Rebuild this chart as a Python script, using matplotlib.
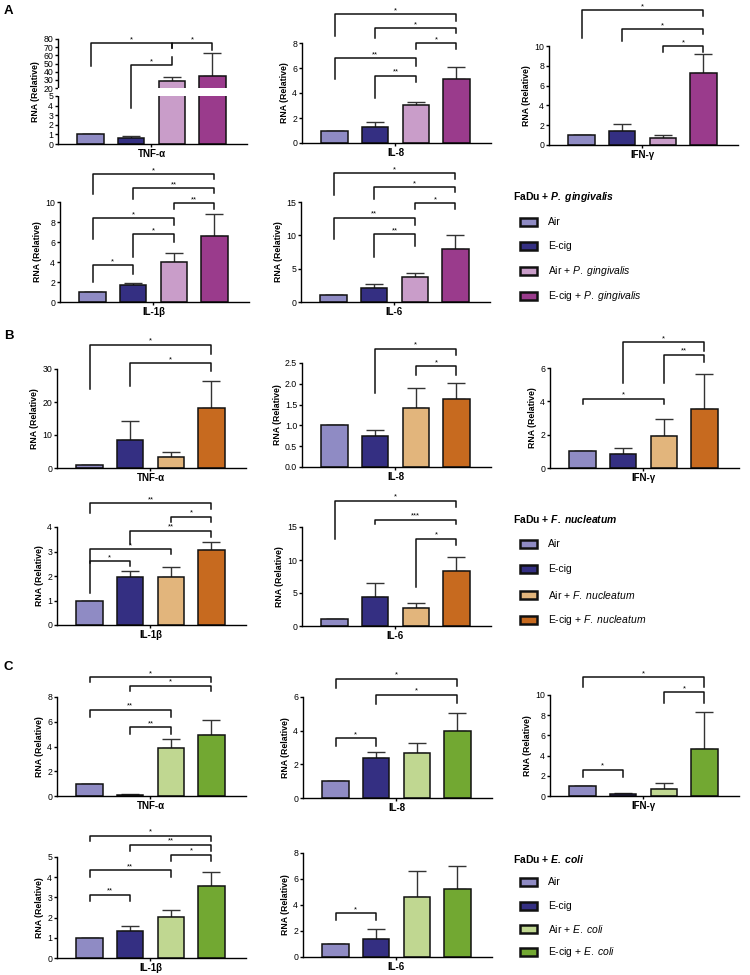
import numpy as np
import matplotlib
matplotlib.use("Agg")
import matplotlib.pyplot as plt
from matplotlib.patches import Rectangle
from matplotlib.ticker import FormatStrFormatter

plt.rcParams['font.family'] = ['Liberation Sans', 'DejaVu Sans']
plt.rcParams['mathtext.fontset'] = 'custom'
plt.rcParams['mathtext.rm'] = 'Liberation Sans'
plt.rcParams['mathtext.it'] = 'Liberation Sans:italic'
# bold-italic species name in the bold legend titles
plt.rcParams['mathtext.bf'] = 'Liberation Sans:italic:bold'

W, H = 750, 975

# ---- groups / colours ----
groups = ["Air", "E-cig", "Air + {}", "E-cig + {}"]
colors_pg = ["#8f8bc4", "#342f82", "#c99dc9", "#9a3b8c"]
colors_fn = ["#8f8bc4", "#342f82", "#e2b57c", "#c76a1f"]
colors_ec = ["#8f8bc4", "#342f82", "#c0d791", "#72a832"]

# ---- A: P. gingivalis ----
pg_tnf = [1.0, 0.63, 28.6, 34.7]
pg_tnf_err = [0, 0.23, 4.5, 27.7]
pg_tnf_sig = [(0, 2, 75, 47, 69, '*'), (2, 3, 75, 69, 66.5, '*'), (1, 2, 48, 3.7, 58, '*')]
pg_il8 = [1.0, 1.25, 3.04, 5.1]
pg_il8_err = [0, 0.4, 0.26, 1.0]
pg_il8_sig = [(0, 3, 10.3, 8.6, 9.8, '*'), (1, 3, 9.2, 8.4, 8.8, '*'), (2, 3, 8.0, 7.5, 7.5, '*'),
              (0, 2, 6.8, 5.1, 6.2, '**'), (1, 2, 5.4, 3.6, 4.9, '**')]
pg_ifn = [1.0, 1.4, 0.7, 7.3]
pg_ifn_err = [0, 0.7, 0.3, 1.9]
pg_ifn_sig = [(0, 3, 13.6, 10.8, 13.0, '*'), (1, 3, 11.7, 10.5, 11.2, '*'), (2, 3, 10.0, 9.4, 9.4, '*')]
pg_il1b = [1.0, 1.7, 4.0, 6.6]
pg_il1b_err = [0, 0.2, 0.9, 2.2]
pg_il1b_sig = [(0, 3, 12.8, 10.8, 12.3, '*'), (1, 3, 11.4, 10.3, 10.9, '**'), (2, 3, 9.9, 9.3, 9.3, '**'),
               (0, 2, 8.4, 6.3, 7.7, '*'), (1, 2, 6.8, 4.5, 6.0, '*'), (0, 1, 3.7, 2.0, 2.8, '*')]
pg_il6 = [1.0, 2.05, 3.75, 8.0]
pg_il6_err = [0, 0.6, 0.55, 2.0]
pg_il6_sig = [(0, 3, 19.3, 16.1, 18.5, '*'), (1, 3, 17.2, 15.5, 16.5, '*'), (2, 3, 14.8, 14.0, 14.0, '*'),
              (0, 2, 12.65, 9.4, 11.5, '**'), (1, 2, 10.15, 6.7, 8.35, '**')]

# ---- B: F. nucleatum ----
fn_tnf = [1.0, 8.6, 3.2, 18.2]
fn_tnf_err = [0, 5.5, 1.8, 8.3]
fn_tnf_sig = [(0, 3, 37.4, 23.9, 34.6, '*'), (1, 3, 31.8, 24.9, 29.3, '*')]
fn_il8 = [1.0, 0.74, 1.43, 1.64]
fn_il8_err = [0, 0.15, 0.48, 0.39]
fn_il8_sig = [(1, 3, 2.84, 1.79, 2.7, '*'), (2, 3, 2.42, 2.22, 2.22, '*')]
fn_ifn = [1.0, 0.87, 1.91, 3.52]
fn_ifn_err = [0, 0.33, 1.03, 2.12]
fn_ifn_sig = [(1, 3, 7.55, 5.09, 7.0, '*'), (2, 3, 6.8, 5.09, 6.34, '**'), (0, 2, 4.15, 3.85, 3.85, '*')]
fn_il1b = [1.0, 1.96, 1.95, 3.05]
fn_il1b_err = [0, 0.24, 0.4, 0.34]
fn_il1b_sig = [(0, 3, 4.98, 4.58, 4.72, '**'), (2, 3, 4.42, 4.22, 4.22, '*'), (1, 3, 3.85, 3.31, 3.58, '**'),
               (0, 2, 3.1, 2.53, 2.91, '*'), (0, 1, 2.6, 1.3, 2.4, '*')]
fn_il6 = [1.0, 4.43, 2.67, 8.35]
fn_il6_err = [0, 2.11, 0.85, 2.05]
fn_il6_sig = [(0, 3, 19.0, 13.2, 18.1, '*'), (1, 3, 16.1, 15.4, 15.4, '***'), (2, 3, 13.2, 5.9, 12.2, '*')]

# ---- C: E. coli ----
ec_tnf = [1.0, 0.11, 3.88, 4.96]
ec_tnf_err = [0, 0.03, 0.73, 1.22]
ec_tnf_sig = [(0, 3, 9.62, 9.21, 9.21, '*'), (1, 3, 8.92, 8.46, 8.46, '*'),
              (0, 2, 6.96, 6.37, 6.42, '**'), (1, 2, 5.56, 5.01, 5.01, '**')]
ec_il8 = [1.0, 2.35, 2.65, 3.98]
ec_il8_err = [0, 0.4, 0.64, 1.06]
ec_il8_sig = [(0, 3, 7.09, 6.53, 6.63, '*'), (1, 3, 6.14, 5.6, 5.64, '*'), (0, 1, 3.55, 3.09, 3.09, '*')]
ec_ifn = [1.0, 0.23, 0.73, 4.7]
ec_ifn_err = [0, 0.1, 0.56, 3.58]
ec_ifn_sig = [(0, 3, 11.75, 10.83, 10.83, '*'), (2, 3, 10.26, 9.24, 9.24, '*'), (0, 1, 2.62, 1.89, 1.89, '*')]
ec_il1b = [1.0, 1.32, 2.01, 3.55]
ec_il1b_err = [0, 0.25, 0.35, 0.71]
ec_il1b_sig = [(0, 3, 6.06, 5.78, 5.78, '*'), (1, 3, 5.61, 5.28, 5.28, '**'), (2, 3, 5.12, 4.79, 4.79, '*'),
               (0, 2, 4.34, 4.01, 4.01, '**'), (0, 1, 3.14, 2.81, 2.81, '**')]
ec_il6 = [1.0, 1.41, 4.62, 5.21]
ec_il6_err = [0, 0.77, 2.0, 1.76]
ec_il6_sig = [(0, 1, 3.38, 2.82, 2.82, '*')]

fig = plt.figure(figsize=(W / 100, H / 100), dpi=100)


def add_box(left, bottom, top, width=189):
    # axes placed by pixel edges of the reference
    return fig.add_axes([left / W, 1 - bottom / H, width / W, (bottom - top) / H])


def bar_panel(ax, vals, errs, sigs, colors, name, yticks, fmt=None):
    x = np.arange(len(vals))
    ax.errorbar(x, vals, yerr=[np.zeros(len(errs)), errs], fmt='none', ecolor='#333333',
                elinewidth=1.0, capsize=6.5, capthick=1.0, zorder=1)
    ax.bar(x, vals, width=0.65, color=colors, edgecolor='#111111', linewidth=1.1, zorder=2)
    for i, j, top, left_end, right_end, stars in sigs:
        ax.plot([i, i, j, j], [left_end, top, top, right_end], color='#111111', lw=1.1,
                clip_on=False, zorder=4)
        ax.text((i + j) / 2, top, stars, ha='center', va='bottom', fontsize=5.5,
                clip_on=False, zorder=4)
    ax.set_xlim(-0.8, 3.85)
    ax.set_ylim(yticks[0], yticks[-1])
    ax.set_yticks(yticks)
    if fmt:
        ax.yaxis.set_major_formatter(FormatStrFormatter(fmt))
    ax.set_xticks([1.5])
    ax.set_xticklabels([name], fontweight='bold', fontsize=7)
    ax.set_ylabel('RNA (Relative)', fontweight='bold', fontsize=6.3, labelpad=2)
    for s in ['top', 'right']:
        ax.spines[s].set_visible(False)
    for s in ['left', 'bottom']:
        ax.spines[s].set_linewidth(1.0)
    ax.tick_params(axis='y', labelsize=6.3, length=2.5, width=1, pad=1)
    ax.tick_params(axis='x', length=2.5, width=1, pad=1)


def legend_block(title_y, step, bug, colors):
    name = bug.replace(' ', r'\;')
    fig.text(513 / W, 1 - title_y / H, 'FaDu + $\\mathbf{' + name + '}$', fontweight='bold',
             fontsize=7.5, va='center')
    for k, (g, c) in enumerate(zip(groups, colors)):
        y = title_y + step * (k + 1)
        fig.add_artist(Rectangle((520 / W, 1 - (y + 4) / H), 17 / W, 8 / H, transform=fig.transFigure,
                                 facecolor=c, edgecolor='#111111', lw=1.8))
        label = g.format('$\\mathit{' + name + '}$')
        fig.text(548 / W, 1 - y / H, label, fontsize=7.5, va='center')


# broken axis used for TNF-a in panel A
LO, HI, GAP, K = 5.0, 20.0, 0.83, 0.0851


def brk_fwd(y):
    y = np.asarray(y, dtype=float)
    return np.where(y <= LO, y, np.where(y >= HI, LO + GAP + (y - HI) * K, LO + (y - LO) * GAP / (HI - LO)))


def brk_inv(s):
    s = np.asarray(s, dtype=float)
    return np.where(s <= LO, s, np.where(s >= LO + GAP, HI + (s - LO - GAP) / K, LO + (s - LO) * (HI - LO) / GAP))


# ---------- panel A ----------
ax = add_box(58, 144, 39)
ax.set_yscale('function', functions=(brk_fwd, brk_inv))
bar_panel(ax, pg_tnf, pg_tnf_err, pg_tnf_sig, colors_pg, "TNF-α",
          [0, 1, 2, 3, 4, 5, 20, 30, 40, 50, 60, 70, 80])
ax.spines['left'].set_visible(False)
ax.plot([0, 0], [0, LO], transform=ax.get_yaxis_transform(), color='black', lw=1.0, clip_on=False)
ax.plot([0, 0], [HI, 80], transform=ax.get_yaxis_transform(), color='black', lw=1.0, clip_on=False)
ax.axhspan(LO, HI, xmin=0.0, xmax=1.0, color='white', lw=0, zorder=3)

bar_panel(add_box(302, 143, 43), pg_il8, pg_il8_err, pg_il8_sig, colors_pg, "IL-8", [0, 2, 4, 6, 8])
bar_panel(add_box(549, 145, 46), pg_ifn, pg_ifn_err, pg_ifn_sig, colors_pg, "IFN-γ", [0, 2, 4, 6, 8, 10])
bar_panel(add_box(60, 302, 202), pg_il1b, pg_il1b_err, pg_il1b_sig, colors_pg, "IL-1β", [0, 2, 4, 6, 8, 10])
bar_panel(add_box(301, 302, 202), pg_il6, pg_il6_err, pg_il6_sig, colors_pg, "IL-6", [0, 5, 10, 15])
legend_block(197, 24.7, "P. gingivalis", colors_pg)

# ---------- panel B ----------
bar_panel(add_box(57, 468, 369), fn_tnf, fn_tnf_err, fn_tnf_sig, colors_fn, "TNF-α", [0, 10, 20, 30])
bar_panel(add_box(302, 467, 363), fn_il8, fn_il8_err, fn_il8_sig, colors_fn, "IL-8",
          [0, 0.5, 1.0, 1.5, 2.0, 2.5], fmt='%.1f')
bar_panel(add_box(550, 468, 368), fn_ifn, fn_ifn_err, fn_ifn_sig, colors_fn, "IFN-γ", [0, 2, 4, 6])
bar_panel(add_box(57, 625, 527), fn_il1b, fn_il1b_err, fn_il1b_sig, colors_fn, "IL-1β", [0, 1, 2, 3, 4])
bar_panel(add_box(302, 626, 527), fn_il6, fn_il6_err, fn_il6_sig, colors_fn, "IL-6", [0, 5, 10, 15])
legend_block(519, 25.2, "F. nucleatum", colors_fn)

# ---------- panel C ----------
bar_panel(add_box(57, 796, 697), ec_tnf, ec_tnf_err, ec_tnf_sig, colors_ec, "TNF-α", [0, 2, 4, 6, 8])
bar_panel(add_box(303, 798, 697), ec_il8, ec_il8_err, ec_il8_sig, colors_ec, "IL-8", [0, 2, 4, 6])
bar_panel(add_box(550, 796, 695), ec_ifn, ec_ifn_err, ec_ifn_sig, colors_ec, "IFN-γ", [0, 2, 4, 6, 8, 10])
bar_panel(add_box(57, 958, 857), ec_il1b, ec_il1b_err, ec_il1b_sig, colors_ec, "IL-1β", [0, 1, 2, 3, 4, 5])
bar_panel(add_box(303, 957, 853), ec_il6, ec_il6_err, ec_il6_sig, colors_ec, "IL-6", [0, 2, 4, 6, 8])
legend_block(859, 23.3, "E. coli", colors_ec)

for letter, y in [('A', 11), ('B', 336), ('C', 667)]:
    fig.text(4 / W, 1 - y / H, letter, fontweight='bold', fontsize=9.5, va='center')

fig.savefig('out.png', dpi=100)
